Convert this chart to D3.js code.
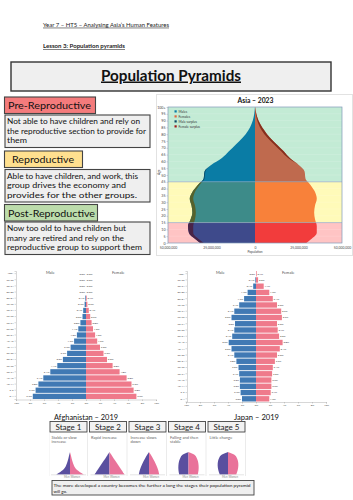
<!DOCTYPE html>
<html><head><meta charset="utf-8">
<script src="https://cdn.jsdelivr.net/npm/d3@7"></script>
<style>body{margin:0;background:#fff}svg{display:block}text{font-family:Lato,"Liberation Sans",sans-serif}</style>
</head><body><svg id="c" width="353" height="500"></svg>
<script>
// ---------------- DATA ----------------
const headerLines = ["Year 7 – HT5 – Analysing Asia’s Human Features", "Lesson 3: Population pyramids"];
const mainTitle = "Population Pyramids";
const groupNames = ["Pre-Reproductive", "Reproductive", "Post-Reproductive"];
const groupText = [
  ["Not able to have children and rely on", "the reproductive section to provide for", "them"],
  ["Able to have children, and work, this", "group drives the economy and", "provides for the other groups."],
  ["Now too old to have children but", "many are retired and rely on the", "reproductive group to support them"]
];
// Asia 2023 (millions per single-year age, averaged per 5-year group)
const asiaTitle = "Asia – 2023";
const asiaGroups = ["0-4","5-9","10-14","15-19","20-24","25-29","30-34","35-39","40-44","45-49","50-54","55-59","60-64","65-69","70-74","75-79","80-84","85-89","90-94","95-99","100+"];
const asiaMale   = [34, 38, 38.5, 37, 36, 36.5, 37.5, 36, 33, 29.5, 29, 25, 19, 15, 11, 7, 4, 2, 0.8, 0.2, 0.05];
const asiaFemale = [32, 35.5, 35.5, 34.5, 34, 34.5, 35.5, 34.5, 32, 29, 28.5, 25, 20, 16.5, 12.5, 8.5, 5.5, 3, 1.3, 0.4, 0.1];
const asiaBandBreaks = [0, 15, 45, 100];
const asiaAgeTicks = [0,5,10,15,20,25,30,35,40,45,50,55,60,65,70,75,80,85,90,95,100];
const asiaPopTicks = [-50, -25, 0, 25, 50];
const asiaLegend = ["Males", "Females", "Male surplus", "Female surplus"];
// Afghanistan / Japan 2019 (% of population), 0-4 .. 100+
const ageGroups = ["0-4","5-9","10-14","15-19","20-24","25-29","30-34","35-39","40-44","45-49","50-54","55-59","60-64","65-69","70-74","75-79","80-84","85-89","90-94","95-99","100+"];
const afgMale   = [7.6, 7.2, 6.8, 6.1, 5.1, 4.1, 3.3, 2.7, 2.2, 1.7, 1.3, 1.1, 0.8, 0.5, 0.4, 0.2, 0.1, 0.0, 0.0, 0.0, 0.0];
const afgFemale = [7.2, 6.8, 6.5, 5.8, 4.8, 3.8, 3.0, 2.5, 2.0, 1.6, 1.3, 1.0, 0.8, 0.6, 0.4, 0.2, 0.1, 0.0, 0.0, 0.0, 0.0];
const jpnMale   = [2.0, 2.2, 2.3, 2.3, 2.4, 2.5, 2.8, 3.1, 3.5, 3.9, 3.4, 3.1, 3.0, 3.5, 3.1, 2.4, 1.7, 1.2, 0.4, 0.1, 0.0];
const jpnFemale = [1.9, 2.1, 2.2, 2.2, 2.3, 2.4, 2.7, 3.0, 3.4, 3.8, 3.3, 3.1, 3.0, 3.7, 3.6, 3.0, 2.4, 1.9, 1.1, 0.3, 0.1];
const pctTicks = [-10, -8, -6, -4, -2, 0, 2, 4, 6, 8, 10];
const countryCaptions = ["Afghanistan – 2019", "Japan – 2019"];
const sexLabels = ["Male", "Female"];
// Demographic transition stages
const stageNames = ["Stage 1", "Stage 2", "Stage 3", "Stage 4", "Stage 5"];
const stageDesc = [["Stable or slow", "increase"], ["Rapid increase"], ["Increase slows", "down"], ["Falling and then", "stable"], ["Little change"]];
const stageLevels = [0, 0.2, 0.4, 0.6, 0.8, 0.9, 1];
const stageProfiles = [
  [0.92, 0.42, 0.25, 0.15, 0.08, 0.04, 0],
  [1.0, 0.8, 0.6, 0.4, 0.2, 0.1, 0],
  [0.68, 0.62, 0.5, 0.36, 0.2, 0.1, 0],
  [0.62, 0.68, 0.68, 0.64, 0.52, 0.38, 0],
  [0.55, 0.66, 0.7, 0.68, 0.57, 0.4, 0]
];
const stageSexLabels = ["Men", "Women"];
const noteLines = ["The more developed a country becomes the further a long the stages their population pyramid", "will go."];

// ---------------- DRAW ----------------
const svg = d3.select("#c");
function text(g, x, y, s, size, o = {}) {
  const t = g.append("text").attr("x", x).attr("y", y).text(s)
    .attr("font-size", size).attr("fill", o.fill || "#111")
    .attr("font-weight", o.bold ? "bold" : "normal")
    .attr("text-anchor", o.anchor || "start");
  if (o.underline) t.attr("text-decoration", "underline");
  if (o.len) t.attr("textLength", o.len).attr("lengthAdjust", "spacingAndGlyphs");
  if (o.dy) t.attr("dy", o.dy);
  return t;
}

// header
text(svg, 43, 26.7, headerLines[0], 5.6, {underline: true, len: 126, fill: "#222"});
text(svg, 43, 48.3, headerLines[1], 5.6, {underline: true, bold: true, len: 82, fill: "#222"});
svg.append("rect").attr("x", 11).attr("y", 62).attr("width", 320).attr("height", 29)
  .attr("fill", "#efefef").attr("stroke", "#333").attr("stroke-width", 1.4);
text(svg, 171, 80.5, mainTitle, 15, {bold: true, anchor: "middle", underline: true, len: 140});

// group boxes
const labelFill = ["#f47b7c", "#ffe08f", "#bcdcab"];
const labelY = [97, 151, 204.5], labelW = [91, 78, 93];
const labelLen = [83, 62, 87];
const descY = [115, 169.5, 222];
const descLen = [[133, 139, 20], [131, 119, 130], [119, 117, 135]];
groupNames.forEach((n, i) => {
  svg.append("rect").attr("x", 4.5).attr("y", labelY[i]).attr("width", labelW[i]).attr("height", 16.5)
    .attr("fill", labelFill[i]).attr("stroke", "#444").attr("stroke-width", 1.1);
  text(svg, i === 1 ? 12 : 8, labelY[i] + 12, n, 10, {len: labelLen[i]});
  svg.append("rect").attr("x", 5).attr("y", descY[i]).attr("width", 145).attr("height", 32.5)
    .attr("fill", "#efefef").attr("stroke", "#444").attr("stroke-width", 1.1);
  groupText[i].forEach((l, j) => text(svg, 7, descY[i] + 9.3 + j * 9.5, l, 7.4, {len: descLen[i][j]}));
});

// ---------- Asia chart ----------
const ga = svg.append("g");
ga.append("rect").attr("x", 156.5).attr("y", 94.5).attr("width", 196).attr("height", 161)
  .attr("fill", "#fff").attr("stroke", "#e2e2e2");
text(ga, 255.5, 103.3, asiaTitle, 6.6, {bold: true, anchor: "middle", len: 36});
const ay = d3.scaleLinear().domain([0, 100]).range([243, 107]);
const ax = d3.scaleLinear().domain([-50, 50]).range([168, 342]);
const pts = asiaGroups.map((g, i) => ({a: i < 20 ? i * 5 + 2.5 : 100, m: asiaMale[i], f: asiaFemale[i]}));
pts.unshift({a: 0, m: asiaMale[0] - 2.5, f: asiaFemale[0] - 2.5});
const bandPal = [
  {bg: "#ffc4c4", m: "#3e4a8b", f: "#f23c3c", ms: "#4a2447", fs: "#a01818"},
  {bg: "#fffab9", m: "#3d8b89", f: "#f8813a", ms: "#56622c", fs: "#a04a10"},
  {bg: "#c3ebd5", m: "#0a7ca5", f: "#bf6a4e", ms: "#0b4a66", fs: "#862f1d"}
];
const curve = d3.curveMonotoneY;
const mArea = d3.area().y(d => ay(d.a)).x0(ax(0)).x1(d => ax(-d.m)).curve(curve);
const fArea = d3.area().y(d => ay(d.a)).x0(ax(0)).x1(d => ax(d.f)).curve(curve);
const msArea = d3.area().y(d => ay(d.a)).x0(d => ax(-Math.min(d.m, d.f))).x1(d => ax(-d.m)).curve(curve);
const fsArea = d3.area().y(d => ay(d.a)).x0(d => ax(Math.min(d.m, d.f))).x1(d => ax(d.f)).curve(curve);
const defs = svg.append("defs");
for (let b = 0; b < 3; b++) {
  const lo = asiaBandBreaks[b], hi = asiaBandBreaks[b + 1];
  const id = "clipb" + b;
  defs.append("clipPath").attr("id", id).append("rect")
    .attr("x", ax(-50)).attr("y", ay(hi)).attr("width", ax(50) - ax(-50)).attr("height", ay(lo) - ay(hi));
  const g = ga.append("g").attr("clip-path", `url(#${id})`);
  const p = bandPal[b];
  g.append("rect").attr("x", ax(-50)).attr("y", ay(hi)).attr("width", ax(50) - ax(-50)).attr("height", ay(lo) - ay(hi)).attr("fill", p.bg);
  // faint grid
  asiaAgeTicks.forEach(t => g.append("line").attr("x1", ax(-50)).attr("x2", ax(50)).attr("y1", ay(t)).attr("y2", ay(t)).attr("stroke", "#fff").attr("stroke-opacity", 0.35).attr("stroke-width", 0.4));
  g.append("path").attr("d", mArea(pts)).attr("fill", p.m);
  g.append("path").attr("d", fArea(pts)).attr("fill", p.f);
  g.append("path").attr("d", msArea(pts)).attr("fill", p.ms);
  g.append("path").attr("d", fsArea(pts)).attr("fill", p.fs);
}
// band separators and frame
asiaBandBreaks.slice(1, 3).forEach(a => ga.append("line").attr("x1", ax(-50)).attr("x2", ax(50)).attr("y1", ay(a)).attr("y2", ay(a)).attr("stroke", "#7f98b8").attr("stroke-width", 0.6));
ga.append("rect").attr("x", ax(-50)).attr("y", ay(100)).attr("width", ax(50) - ax(-50)).attr("height", ay(0) - ay(100))
  .attr("fill", "none").attr("stroke", "#7f98b8").attr("stroke-width", 0.7);
// axes
const yAx = ga.append("g").attr("transform", `translate(${ax(-50)},0)`)
  .call(d3.axisLeft(ay).tickValues(asiaAgeTicks).tickSize(1.5).tickPadding(1).tickFormat(d => d === 100 ? "100+" : d));
yAx.selectAll("text").attr("font-size", 3.6).attr("fill", "#444").attr("font-family", "Lato");
yAx.selectAll("line").attr("stroke", "#999").attr("stroke-width", 0.4);
yAx.select(".domain").remove();
text(ga, 0, 0, "Age", 3.2, {fill: "#444", anchor: "middle"}).attr("transform", `translate(159.5,${ay(52)}) rotate(-90)`);
const fmt = d3.format(",");
const xAx = ga.append("g").attr("transform", `translate(0,${ay(0) + 1})`)
  .call(d3.axisBottom(ax).tickValues(asiaPopTicks).tickSize(0).tickPadding(2.5).tickFormat(d => fmt(Math.abs(d) * 1e6)));
xAx.selectAll("text").attr("font-size", 3.4).attr("fill", "#444").attr("font-family", "Lato");
xAx.select(".domain").remove();
text(ga, ax(0), 252.5, "Population", 3.2, {anchor: "middle", fill: "#444"});
// legend
const legCol = ["#0a7ca5", "#e0643f", "#0b4a66", "#a01818"];
asiaLegend.forEach((l, i) => {
  ga.append("rect").attr("x", 174.5).attr("y", 110.3 + i * 5).attr("width", 2.2).attr("height", 2.2).attr("fill", legCol[i]);
  text(ga, 178.5, 112.6 + i * 5, l, 3.3, {fill: "#333"});
});

// ---------- Afghanistan & Japan pyramids ----------
function pyramid(male, female, cx, axisX, top, bottom, axisLabelY) {
  const g = svg.append("g");
  const rows = ageGroups.slice().reverse();
  const y = d3.scaleBand().domain(rows).range([top, bottom]).paddingInner(0.14);
  const x = d3.scaleLinear().domain([-10, 10]).range([cx - 70, cx + 70]);
  const data = ageGroups.map((a, i) => ({a, m: male[i], f: female[i]}));
  g.selectAll(".m").data(data).join("rect").attr("x", d => x(-d.m)).attr("y", d => y(d.a))
    .attr("width", d => x(0) - x(-d.m)).attr("height", y.bandwidth()).attr("fill", "#4079b4");
  g.selectAll(".f").data(data).join("rect").attr("x", x(0)).attr("y", d => y(d.a))
    .attr("width", d => x(d.f) - x(0)).attr("height", y.bandwidth()).attr("fill", "#ef7a8b");
  g.selectAll(".ml").data(data).join("text").attr("x", d => x(-d.m) - 0.8).attr("y", d => y(d.a) + y.bandwidth() / 2)
    .attr("dy", "0.35em").attr("text-anchor", "end").attr("font-size", 2.6).attr("fill", "#333").text(d => d.m.toFixed(1) + "%");
  g.selectAll(".fl").data(data).join("text").attr("x", d => x(d.f) + 0.8).attr("y", d => y(d.a) + y.bandwidth() / 2)
    .attr("dy", "0.35em").attr("font-size", 2.6).attr("fill", "#333").text(d => d.f.toFixed(1) + "%");
  // left axis
  const la = g.append("g").attr("transform", `translate(${axisX},0)`)
    .call(d3.axisLeft(y).tickSize(1.5).tickPadding(1));
  la.selectAll("text").attr("font-size", 2.6).attr("fill", "#444").attr("font-family", "Lato");
  la.selectAll("line,path").attr("stroke", "#999").attr("stroke-width", 0.4);
  // bottom axis
  const ba = g.append("g").attr("transform", `translate(0,${bottom + 0.5})`)
    .call(d3.axisBottom(x).tickValues(pctTicks).tickSize(1.5).tickPadding(1).tickFormat(d => Math.abs(d) + "%"));
  ba.selectAll("text").attr("font-size", 2.6).attr("fill", "#444").attr("font-family", "Lato");
  ba.selectAll("line,path").attr("stroke", "#999").attr("stroke-width", 0.4);
  text(g, x(-5.1), top + 3, sexLabels[0], 4, {anchor: "middle", fill: "#555"});
  text(g, x(4.6), top + 3, sexLabels[1], 4, {anchor: "middle", fill: "#555"});
}
pyramid(afgMale, afgFemale, 86, 16, 271, 399, 403);
pyramid(jpnMale, jpnFemale, 256, 187, 271, 401.5, 405);
text(svg, 54, 419.5, countryCaptions[0], 8, {len: 64});
text(svg, 234, 420, countryCaptions[1], 8, {len: 45});

// ---------- Stages ----------
const gs = svg.append("g");
const hs = d3.scaleLinear().domain([0, 1]).range([0, 15]);
const vs = d3.scaleLinear().domain([0, 1]).range([474.5, 452]);
stageNames.forEach((n, i) => {
  const x0 = 50 + 39.5 * i, cx = x0 + 20;
  gs.append("rect").attr("x", x0).attr("y", 421.5).attr("width", 37).attr("height", 10.5)
    .attr("fill", "#f2f2f2").attr("stroke", "#444").attr("stroke-width", 0.9);
  text(gs, x0 + 18.5, 429.8, n, 8, {anchor: "middle", fill: "#222"});
  gs.append("line").attr("x1", x0 + 37.5).attr("x2", x0 + 37.5).attr("y1", 433).attr("y2", 476).attr("stroke", "#ddd").attr("stroke-width", 0.6);
  stageDesc[i].forEach((l, j) => text(gs, x0 + 1.5, 438.5 + j * 4.6, l, 4.1, {fill: "#666"}));
  const prof = stageLevels.map((h, k) => ({h, w: stageProfiles[i][k]}));
  const left = d3.area().y(d => vs(d.h)).x0(cx).x1(d => cx - hs(d.w)).curve(d3.curveBasis);
  const right = d3.area().y(d => vs(d.h)).x0(cx).x1(d => cx + hs(d.w)).curve(d3.curveBasis);
  gs.append("path").attr("d", left(prof)).attr("fill", "#5a4f9f");
  gs.append("path").attr("d", right(prof)).attr("fill", "#e9729a");
  gs.append("line").attr("x1", x0 + 1).attr("x2", x0 + 36).attr("y1", 474.8).attr("y2", 474.8).attr("stroke", "#ccc").attr("stroke-width", 0.5);
  text(gs, cx - 0.5, 478, stageSexLabels[0], 2.8, {anchor: "end", fill: "#888"});
  text(gs, cx + 0.5, 478, stageSexLabels[1], 2.8, {fill: "#888"});
});
gs.append("line").attr("x1", 49.5).attr("x2", 49.5).attr("y1", 433).attr("y2", 476).attr("stroke", "#eee").attr("stroke-width", 0.5);
svg.append("rect").attr("x", 52).attr("y", 480.5).attr("width", 202).attr("height", 14.5)
  .attr("fill", "#efefef").attr("stroke", "#444").attr("stroke-width", 0.9);
text(svg, 53.5, 486.6, noteLines[0], 4.4, {len: 197, fill: "#111"});
text(svg, 53.5, 492.6, noteLines[1], 4.4, {fill: "#111"});
</script></body></html>
